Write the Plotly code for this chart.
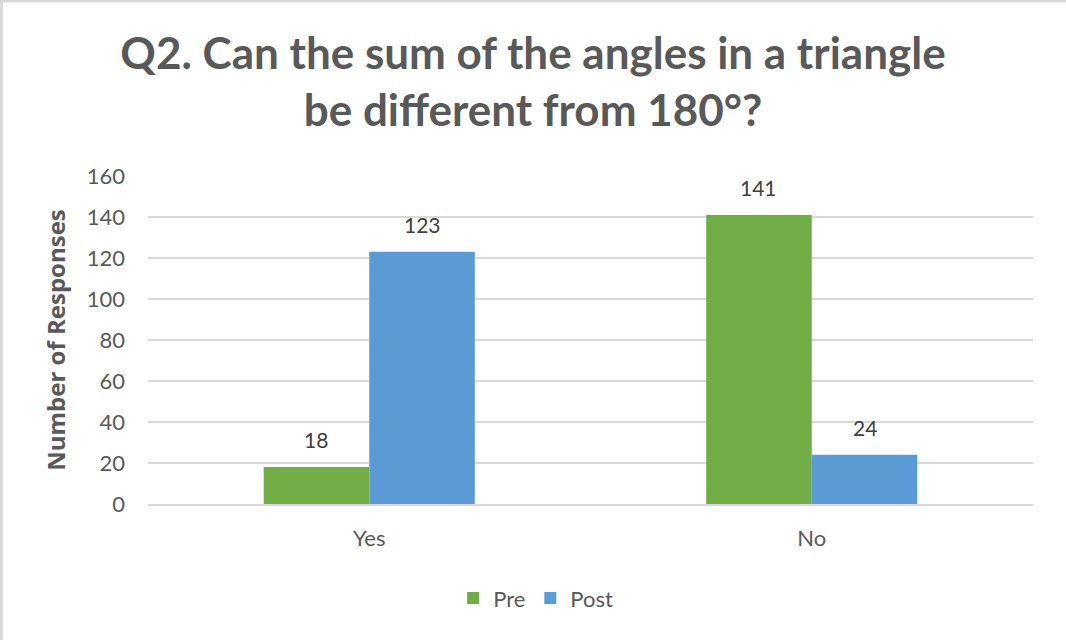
import plotly.graph_objects as go

categories = ["Yes", "No"]
pre_values = [18, 141]
post_values = [123, 24]
series_names = ["Pre", "Post"]
y_ticks = [0, 20, 40, 60, 80, 100, 120, 140, 160]

green = "#70AD47"
blue = "#5B9BD5"
font_family = "Lato, 'Open Sans', sans-serif"

fig = go.Figure()
fig.add_trace(go.Bar(name=series_names[0], x=categories, y=pre_values,
                     marker=dict(color=green, line=dict(width=0))))
fig.add_trace(go.Bar(name=series_names[1], x=categories, y=post_values,
                     marker=dict(color=blue, line=dict(width=0))))

annotations = []
for vals, off in ((pre_values, -0.1193), (post_values, 0.1193)):
    for i, v in enumerate(vals):
        annotations.append(dict(x=i + off, y=v, xref="x", yref="y", text=str(v),
                                showarrow=False, yanchor="bottom", yshift=13,
                                font=dict(size=21, color="#404040", family=font_family)))

fig.update_layout(
    width=1066, height=640,
    paper_bgcolor="white", plot_bgcolor="white",
    margin=dict(l=148, r=33, t=176, b=136),
    barmode="group", bargap=0.523, bargroupgap=0,
    title=dict(text="<b>Q2. Can the sum of the angles in a triangle<br>be different from 180°?</b>",
               x=0.5, xanchor="center", y=0.892, yanchor="middle",
               font=dict(size=44, color="#595959", family=font_family)),
    xaxis=dict(showgrid=False, showline=True, linecolor="#D9D9D9", linewidth=1.5,
               ticks="", ticklabelstandoff=14,
               tickfont=dict(size=22, color="#595959", family=font_family)),
    yaxis=dict(range=[0, 160], tickvals=y_ticks, showgrid=True, gridcolor="#D9D9D9",
               gridwidth=1.5, zeroline=False, showline=False, ticks="",
               ticklabelstandoff=22,
               tickfont=dict(size=22, color="#595959", family=font_family),
               title=dict(text="<b>Number of Responses</b>", standoff=14,
                          font=dict(size=24, color="#595959", family="'Open Sans', sans-serif"))),
    legend=dict(orientation="h", x=0.438, xanchor="center", y=-0.287, yanchor="middle",
                font=dict(size=22, color="#595959", family=font_family),
                itemwidth=30, traceorder="normal"),
    annotations=annotations,
    shapes=[
        dict(type="line", xref="paper", yref="paper", x0=-0.17, x1=1.05, y0=1.5335, y1=1.5335,
             line=dict(color="#D9D9D9", width=3)),
        dict(type="line", xref="paper", yref="paper", x0=-0.1655, x1=-0.1655, y0=-0.42, y1=1.54,
             line=dict(color="#D9D9D9", width=3)),
    ],
)

fig.write_html("out.html", config={"displayModeBar": False},
               post_script="document.body.style.margin='0';")
